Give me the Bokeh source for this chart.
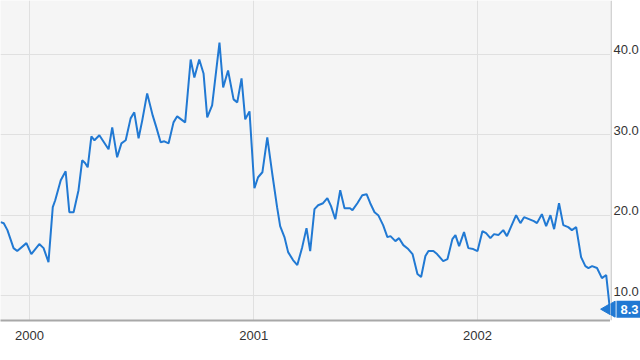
import math
import pandas as pd
from bokeh.plotting import figure
from bokeh.layouts import row
from bokeh.models import Range1d, FixedTicker, DatetimeTickFormatter, Span
from bokeh.core.properties import value
from bokeh.embed import file_html
from bokeh.resources import INLINE

dates = [
    "1999-11-15", "1999-11-20", "1999-11-26", "1999-12-06", "1999-12-12", "1999-12-27",
    "2000-01-04", "2000-01-17", "2000-01-24", "2000-02-01", "2000-02-08", "2000-02-12",
    "2000-02-21", "2000-02-29", "2000-03-06", "2000-03-13", "2000-03-21", "2000-03-27",
    "2000-04-01", "2000-04-05", "2000-04-11", "2000-04-16", "2000-04-24", "2000-05-09",
    "2000-05-15", "2000-05-23", "2000-05-30", "2000-06-06", "2000-06-14", "2000-06-20",
    "2000-06-27", "2000-07-03", "2000-07-11", "2000-07-20", "2000-07-26", "2000-08-02",
    "2000-08-08", "2000-08-15", "2000-08-23", "2000-08-29", "2000-09-11", "2000-09-20",
    "2000-09-26", "2000-10-04", "2000-10-11", "2000-10-17", "2000-10-25", "2000-11-06",
    "2000-11-12", "2000-11-20", "2000-11-29", "2000-12-05", "2000-12-12", "2000-12-18",
    "2000-12-25",
    "2001-01-02", "2001-01-08", "2001-01-15", "2001-01-23", "2001-01-31", "2001-02-08",
    "2001-02-13", "2001-02-20", "2001-02-26", "2001-03-06", "2001-03-13", "2001-03-21",
    "2001-03-28", "2001-04-03", "2001-04-10", "2001-04-16", "2001-04-24", "2001-05-01",
    "2001-05-07", "2001-05-14", "2001-05-22", "2001-05-29", "2001-06-07", "2001-06-11",
    "2001-06-19", "2001-06-27", "2001-07-04", "2001-07-10", "2001-07-17", "2001-07-23",
    "2001-07-31", "2001-08-07", "2001-08-12", "2001-08-20", "2001-08-26", "2001-09-02",
    "2001-09-10", "2001-09-17", "2001-09-25", "2001-10-01", "2001-10-08", "2001-10-13",
    "2001-10-21", "2001-10-27", "2001-11-06", "2001-11-13", "2001-11-21", "2001-11-26",
    "2001-12-02", "2001-12-10", "2001-12-17", "2001-12-25",
    "2002-01-01", "2002-01-09", "2002-01-15", "2002-01-22", "2002-01-28", "2002-02-04",
    "2002-02-12", "2002-02-18", "2002-02-23", "2002-03-05", "2002-03-12", "2002-03-18",
    "2002-03-26", "2002-04-03", "2002-04-08", "2002-04-16", "2002-04-23", "2002-04-30",
    "2002-05-06", "2002-05-14", "2002-05-21", "2002-05-29", "2002-06-04", "2002-06-11",
    "2002-06-19", "2002-06-26", "2002-07-01", "2002-07-07", "2002-07-15", "2002-07-23",
    "2002-07-30", "2002-08-05",
]

values = [
    19.13, 19.00, 18.14, 15.90, 15.53, 16.52,
    15.16, 16.40, 15.90, 14.16, 21.00, 21.86,
    24.35, 25.47, 20.37, 20.37, 23.11, 26.83,
    26.46, 25.96, 29.81, 29.32, 29.94, 28.20,
    30.93, 27.20, 28.94, 29.32, 32.05, 32.80,
    29.57, 31.80, 35.16, 32.42, 30.93, 29.07,
    29.19, 28.94, 31.55, 32.30, 31.55, 39.38,
    37.14, 39.38, 37.64, 32.17, 33.66, 41.49,
    35.90, 38.01, 34.41, 34.04, 37.02, 31.93,
    32.92,
    23.35, 24.72, 25.34, 29.69, 25.22, 21.00,
    18.63, 17.27, 15.40, 14.41, 13.79, 16.02,
    18.39, 15.53, 20.75, 21.24, 21.49, 22.11,
    21.12, 19.50, 23.11, 20.87, 20.87, 20.62,
    21.49, 22.48, 22.61, 21.49, 20.37, 20.00,
    18.76, 17.27, 17.39, 16.77, 17.14, 16.27,
    15.78, 15.16, 12.67, 12.30, 14.91, 15.53,
    15.53, 15.16, 14.29, 14.53, 17.02, 17.52,
    16.15, 17.89, 15.90, 15.78,
    15.53, 18.01, 17.76, 17.14, 17.64, 17.52,
    18.14, 17.39, 18.26, 20.00, 19.01, 19.75,
    19.50, 19.25, 19.01, 20.12, 18.63, 20.00,
    18.26, 21.49, 18.76, 18.51, 18.14, 18.51,
    14.78, 13.66, 13.42, 13.66, 13.42, 12.17,
    12.55, 8.30,
]

year_ticks = ["2000-01-01", "2001-01-01", "2002-01-01"]
value_ticks = [10, 20, 30, 40]
value_tick_labels = ["10.0", "20.0", "30.0", "40.0"]

BLUE = "#2179d3"
AXIS_GRAY = "#a8a8a8"
FONT = "Liberation Sans"

x = pd.to_datetime(dates)
year_ms = [pd.Timestamp(d).value / 1e6 for d in year_ticks]

y_range = Range1d(6.89, 46.72)

# ---- main chart area ----
p = figure(width=610, height=360, x_axis_type="datetime", y_axis_location=None,
           output_backend="svg", toolbar_location=None,
           x_range=Range1d(pd.Timestamp("1999-11-14 17:00"), pd.Timestamp("2002-08-06")),
           y_range=y_range,
           min_border_left=0, min_border_top=0, min_border_right=0, min_border_bottom=40)
p.background_fill_color = "#f5f5f5"
p.border_fill_color = "white"
p.outline_line_color = None

p.xgrid.ticker = FixedTicker(ticks=year_ms)
p.ygrid.ticker = FixedTicker(ticks=value_ticks)
for g in (p.xgrid, p.ygrid):
    g.grid_line_color = "#e0e0e0"
    g.grid_line_width = 1

xa = p.xaxis[0]
xa.ticker = FixedTicker(ticks=year_ms)
xa.formatter = DatetimeTickFormatter(years="%Y", months="%Y", days="%Y")
xa.major_tick_line_color = None
xa.minor_tick_line_color = None
xa.major_tick_out = 0
xa.major_tick_in = 0
xa.axis_line_color = AXIS_GRAY
xa.axis_line_width = 2
xa.major_label_text_font = FONT
xa.major_label_text_font_size = "13px"
xa.major_label_text_color = "#333333"
xa.major_label_standoff = 10

p.line(x, values, line_color=BLUE, line_width=2)
p.scatter([x[-1]], [values[-1]], marker="triangle", angle=math.pi / 2, size=16,
          fill_color=BLUE, line_color=BLUE)

# ---- right value-scale column (shares the y scale) ----
s = figure(width=30, height=360, x_axis_location=None, y_axis_location=None,
           output_backend="svg", toolbar_location=None,
           x_range=Range1d(0, 30), y_range=y_range,
           min_border_left=0, min_border_top=0, min_border_right=0, min_border_bottom=40)
s.grid.visible = False
s.background_fill_color = "white"
s.border_fill_color = "white"
s.outline_line_color = None

s.add_layout(Span(location=0.5, dimension="height", line_color=AXIS_GRAY,
                  line_width=1, level="underlay"))
s.text(x=[0] * len(value_ticks), y=value_ticks, text=value_tick_labels,
       x_offset=3, text_baseline="bottom", text_align="left",
       text_font=value(FONT), text_font_size="13px", text_color="#333333")

s.scatter([0], [values[-1]], marker="triangle", angle=math.pi / 2, size=16,
          fill_color=BLUE, line_color=BLUE)
s.text(x=[0], y=[values[-1]], text=[f"{values[-1]:.1f}"],
       x_offset=6, text_baseline="middle", text_align="left",
       text_font=value(FONT), text_font_size="13px", text_font_style="bold",
       text_color="white", background_fill_color=BLUE, padding=4)

layout = row(p, s, spacing=0)
open("out.html", "w").write(file_html(layout, INLINE))
